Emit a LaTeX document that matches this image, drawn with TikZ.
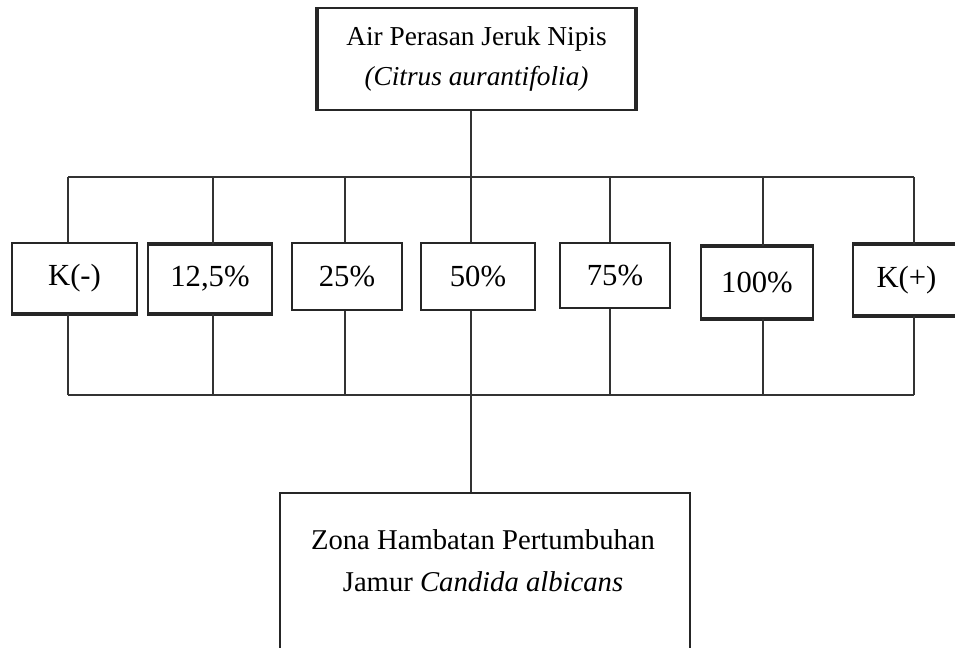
\documentclass[tikz,border=0pt]{standalone}
\usepackage{fontspec}
\setmainfont{Liberation Serif}
\begin{document}
\begin{tikzpicture}[x=0.75pt,y=-0.75pt,
  box/.style={draw=black!85,line width=1.3pt,fill=white,inner sep=0pt,align=center},
  pct/.style={box,font=\fontsize{23}{27}\selectfont},
  conn/.style={draw=black!80,line width=1.5pt},
  thickedge/.style={draw=black!85,line width=3pt}]
\useasboundingbox (0,0) rectangle (955,647);

% top box
\node[box,minimum width=237.75pt,minimum height=76.5pt,
      font=\fontsize{20.5}{30}\selectfont] (top) at (476.5,59)
  {Air Perasan Jeruk Nipis\\\textit{(Citrus aurantifolia)}};

% concentration boxes
\node[pct,minimum width=93.75pt,minimum height=52.5pt]  (b1) at (74.5,278)  {K(-)};
\node[pct,minimum width=93pt,minimum height=51pt]       (b2) at (210,279)   {12,5\%};
\node[pct,minimum width=82.5pt,minimum height=50.25pt]  (b3) at (347,276.5) {25\%};
\node[pct,minimum width=85.5pt,minimum height=50.25pt]  (b4) at (478,276.5) {50\%};
\node[pct,minimum width=82.5pt,minimum height=48.75pt]  (b5) at (615,275.5) {75\%};
\node[pct,minimum width=84pt,minimum height=53.25pt]    (b6) at (757,282.5) {100\%};
\node[pct,minimum width=80.25pt,minimum height=52.5pt]  (b7) at (906.5,280) {K(+)};

% bottom box
\node[box,minimum width=307.5pt,minimum height=150pt] (bot) at (485,593) {};
\node[font=\fontsize{21.5}{31.5}\selectfont,align=center] (bottxt) at (483,561)
  {Zona Hambatan Pertumbuhan\\Jamur \textit{Candida albicans}};

% thicker edges
\draw[thickedge] (b1.south west) -- (b1.south east);
\draw[thickedge] (b2.north west) -- (b2.north east);
\draw[thickedge] (b2.south west) -- (b2.south east);
\draw[thickedge] (b6.north west) -- (b6.north east);
\draw[thickedge] (b6.south west) -- (b6.south east);
\draw[thickedge] (b7.north west) -- (b7.north east);
\draw[thickedge] (b7.south west) -- (b7.south east);
\draw[thickedge] (top.north west) -- (top.south west);
\draw[thickedge] (top.north east) -- (top.south east);

% junction coordinates
\coordinate (jt) at (471,177);
\coordinate (jb) at (471,395);
\foreach \i/\x in {1/68,2/213,3/345,4/471,5/610,6/763,7/914}{
  \coordinate (t\i) at (\x,177);
  \coordinate (u\i) at (\x,395);
}

% connectors
\draw[conn] (top.south -| jt) -- (jt);
\draw[conn] (t1) -- (t7);
\draw[conn] (u1) -- (u7);
\foreach \i in {1,...,7}{
  \draw[conn] (t\i) -- (t\i |- b\i.north);
  \draw[conn] (b\i.south -| u\i) -- (u\i);
}
\draw[conn] (jb) -- (jb |- bot.north);
\end{tikzpicture}
\end{document}
